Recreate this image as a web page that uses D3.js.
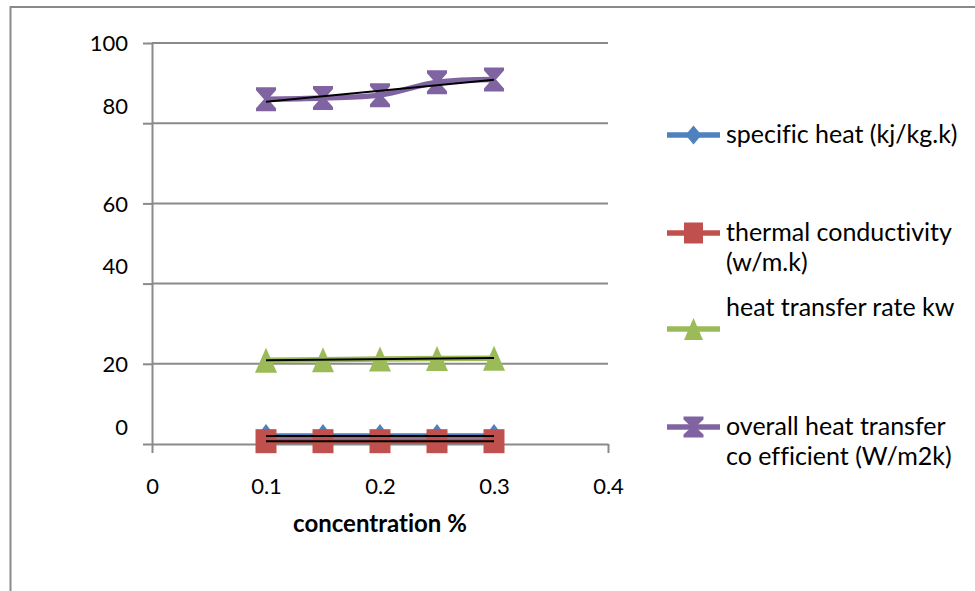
<!DOCTYPE html>
<html><head><meta charset="utf-8">
<script src="https://cdn.jsdelivr.net/npm/d3@7"></script>
<style>body{margin:0;background:#fff;} svg{display:block;font-family:Lato,"Open Sans",sans-serif;font-variant-ligatures:none;}</style>
</head><body><svg id="c" width="975" height="591"></svg>
<script>
const concentration = [0.1, 0.15, 0.2, 0.25, 0.3];
const specificHeat = [2.0, 2.0, 2.0, 2.0, 2.0];
const thermalConductivity = [0.7, 0.7, 0.7, 0.7, 0.7];
const heatTransferRate = [20.9, 21.0, 21.2, 21.3, 21.4];
const overallCoefficient = [86.0, 86.3, 87.0, 90.2, 90.9];
const legendLabels = [["specific heat (kj/kg.k)"], ["thermal conductivity", "(w/m.k)"], ["heat transfer rate kw"], ["overall heat transfer", "co efficient (W/m2k)"]];
const yTicks = [0, 20, 40, 60, 80, 100];
const xTicks = [0, 0.1, 0.2, 0.3, 0.4];
const xTitle = "concentration %";

const svg = d3.select("#c");
const x = d3.scaleLinear().domain([0, 0.4]).range([152, 608]);
const y = d3.scaleLinear().domain([0, 100]).range([444, 43]);
const grey = "#8a8a8a";

// outer frame
svg.append("path").attr("d", "M10.5,591 V7 H975").attr("fill", "none").attr("stroke", grey).attr("stroke-width", 2);

// gridlines
svg.append("g").selectAll("line").data(yTicks.filter(d => d > 0)).join("line")
  .attr("x1", x(0)).attr("x2", x(0.4)).attr("y1", d => y(d)).attr("y2", d => y(d))
  .attr("stroke", grey).attr("stroke-width", 2);

// y axis
const gy = svg.append("g").attr("transform", `translate(${x(0)},0)`)
  .call(d3.axisLeft(y).tickValues(yTicks).tickSize(9).tickSizeOuter(0).tickFormat(d3.format("d")));
gy.select(".domain").attr("stroke", grey).attr("stroke-width", 2);
gy.selectAll(".tick line").attr("stroke", grey).attr("stroke-width", 2);
gy.selectAll(".tick text").attr("x", -24).attr("font-size", 22).attr("fill", "#000")
  .attr("font-family", "Lato, sans-serif")
  .attr("dy", d => (yTicks.indexOf(d) % 2 === 0) ? "-0.45em" : "0.36em");

// x axis
const gx = svg.append("g").attr("transform", `translate(0,${y(0)})`)
  .call(d3.axisBottom(x).tickValues(xTicks).tickSize(9).tickSizeOuter(0).tickFormat(d => d === 0 ? "0" : d3.format(".1f")(d)));
gx.select(".domain").attr("stroke", grey).attr("stroke-width", 2);
gx.selectAll(".tick line").attr("stroke", grey).attr("stroke-width", 2);
gx.selectAll(".tick text").attr("y", 50).attr("dy", 0).attr("font-size", 22).attr("fill", "#000")
  .attr("font-family", "Lato, sans-serif");

svg.append("text").attr("x", 380).attr("y", 532).attr("text-anchor", "middle")
  .attr("font-weight", "bold").attr("font-size", 24).text(xTitle);

// marker shapes (w,h)
const shapes = {
  diamond: (w, h) => `M0,${-h/2}L${w/2},0L0,${h/2}L${-w/2},0Z`,
  square: (w, h) => `M${-w/2},${-h/2}H${w/2}V${h/2}H${-w/2}Z`,
  triangle: (w, h) => `M0,${-h/2}L${w/2},${h/2}H${-w/2}Z`,
  hourglass: (w, h) => `M${-w/2},${-h/2}H${w/2}V${-h/2+3}L2,0L${w/2},${h/2-3}V${h/2}H${-w/2}V${h/2-3}L-2,0L${-w/2},${-h/2+3}Z`
};

const series = [
  {values: specificHeat, color: "#4F81BD", shape: "diamond", w: 18, h: 24, lw: 16, lh: 19, smooth: false},
  {values: thermalConductivity, color: "#C0504D", shape: "square", w: 21, h: 24, lw: 19, lh: 21, smooth: false},
  {values: heatTransferRate, color: "#9BBB59", shape: "triangle", w: 22, h: 25, lw: 19, lh: 22, smooth: false},
  {values: overallCoefficient, color: "#8064A2", shape: "hourglass", w: 20, h: 24, lw: 20, lh: 21, smooth: true}
];

series.forEach(s => {
  const pts = concentration.map((c, i) => [c, s.values[i]]);
  const line = d3.line().x(d => x(d[0])).y(d => y(d[1]));
  if (s.smooth) line.curve(d3.curveCatmullRom.alpha(0.5));
  svg.append("path").datum(pts).attr("d", line).attr("fill", "none")
    .attr("stroke", s.color).attr("stroke-width", 5.5).attr("stroke-linejoin", "round");
  svg.append("g").selectAll("path").data(pts).join("path")
    .attr("transform", d => `translate(${x(d[0])},${y(d[1])})`)
    .attr("d", shapes[s.shape](s.w, s.h)).attr("fill", s.color);
});

// linear trendlines
series.forEach(s => {
  const n = concentration.length;
  const mx = d3.mean(concentration), my = d3.mean(s.values);
  const slope = d3.sum(concentration, (c, i) => (c - mx) * (s.values[i] - my)) / d3.sum(concentration, c => (c - mx) ** 2);
  const f = c => my + slope * (c - mx);
  const ends = [concentration[0], concentration[n - 1]];
  svg.append("line").attr("x1", x(ends[0])).attr("x2", x(ends[1]))
    .attr("y1", y(f(ends[0]))).attr("y2", y(f(ends[1])))
    .attr("stroke", "#000").attr("stroke-width", 2);
});

// legend
const legendY = [135, 233, 329, 427];
const textShift = [0, 0, -21, 0];
series.forEach((s, i) => {
  const g = svg.append("g").attr("transform", `translate(0,${legendY[i]})`);
  g.append("line").attr("x1", 667).attr("x2", 720).attr("stroke", s.color).attr("stroke-width", 5.5);
  g.append("path").attr("transform", "translate(693.5,0)").attr("d", shapes[s.shape](s.lw, s.lh)).attr("fill", s.color);
  const t = g.append("text").attr("x", 726).attr("y", 8 + textShift[i]).attr("font-size", 25).attr("fill", "#000");
  legendLabels[i].forEach((l, j) => t.append("tspan").attr("x", 726).attr("dy", j === 0 ? 0 : 30).text(l));
});
</script></body></html>
